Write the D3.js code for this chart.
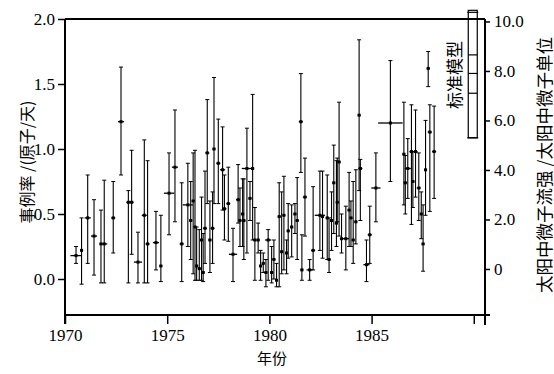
<!DOCTYPE html>
<html><head><meta charset="utf-8">
<script src="https://cdn.jsdelivr.net/npm/d3@7/dist/d3.min.js"></script>
<style>body{margin:0;background:#fff}svg{display:block}</style>
</head><body><svg id="c" width="554" height="374"></svg>
<script>
// ---- data ----
const years=[1970.54,1970.81,1971.11,1971.42,1971.76,1971.92,1972.36,1972.74,1973.10,1973.26,1973.57,1973.88,1974.04,1974.45,1974.69,1975.09,1975.38,1975.71,1976.01,1976.15,1976.27,1976.36,1976.44,1976.57,1976.68,1976.76,1976.85,1976.96,1977.09,1977.22,1977.29,1977.50,1977.71,1977.80,1977.99,1978.22,1978.47,1978.56,1978.69,1978.75,1978.90,1979.05,1979.18,1979.29,1979.45,1979.57,1979.70,1979.83,1979.94,1980.11,1980.22,1980.35,1980.48,1980.60,1980.71,1980.84,1980.92,1981.09,1981.25,1981.36,1981.54,1981.59,1981.74,1981.97,1982.14,1982.47,1982.60,1982.83,1982.92,1983.04,1983.15,1983.28,1983.32,1983.41,1983.53,1983.74,1983.90,1983.99,1984.10,1984.23,1984.39,1984.45,1984.75,1984.91,1985.21,1985.92,1986.58,1986.65,1986.77,1986.95,1987.02,1987.15,1987.31,1987.52,1987.43,1987.64,1987.77,1987.85,1988.06];
const rates=[0.18,0.22,0.47,0.33,0.27,0.27,0.47,1.21,0.59,0.59,0.13,0.49,0.27,0.28,0.10,0.66,0.86,0.27,0.57,0.45,0.60,0.40,0.10,0.08,0.30,0.05,0.39,0.97,0.30,0.39,1.00,0.89,0.84,0.54,0.58,0.19,0.61,0.45,0.50,0.45,0.85,0.62,0.85,0.30,0.30,0.10,0.12,0.05,0.30,0.05,0.15,-0.01,0.48,0.21,0.49,0.20,0.37,0.40,0.50,0.45,1.21,0.07,0.63,0.07,0.22,0.49,0.48,0.47,0.15,0.45,0.74,0.43,0.59,0.90,0.31,0.31,0.53,0.47,0.30,0.44,1.26,0.85,0.11,0.34,0.70,1.20,0.96,0.74,0.85,0.98,0.75,0.98,0.70,0.27,0.50,0.84,1.62,1.13,0.98];
const errLo=[0.12,-0.04,0.12,0.03,-0.03,-0.03,0.20,0.80,-0.03,0.19,-0.03,-0.03,-0.03,0.07,-0.02,0.34,0.44,-0.02,0.25,0.15,0.04,-0.01,-0.01,-0.01,-0.01,-0.02,0.12,0.58,0.05,0.12,0.58,0.58,0.53,0.30,0.29,-0.02,0.43,0.25,0.25,0.15,0.20,0.45,0.30,-0.01,0.20,-0.01,0.05,-0.06,-0.01,-0.03,0.00,-0.06,-0.06,0.04,0.07,0.04,0.16,0.17,0.35,0.15,0.82,-0.01,0.33,-0.01,0.07,0.22,0.16,0.15,0.05,0.22,0.35,0.25,0.44,0.33,0.20,0.07,0.25,0.25,0.12,0.27,0.68,0.45,-0.02,0.12,0.44,0.75,0.57,0.50,0.62,0.42,0.55,0.63,0.45,0.06,0.31,0.49,1.48,0.52,0.62];
const errHi=[0.25,0.47,0.80,0.61,0.53,0.76,0.75,1.63,0.68,0.99,0.36,1.07,0.91,0.52,0.49,0.97,1.30,0.74,0.89,0.75,0.97,0.99,0.40,0.38,0.63,0.35,0.83,1.38,0.60,0.67,1.55,1.23,1.17,0.80,0.86,0.39,0.88,0.70,0.77,0.77,1.16,0.75,1.42,0.55,0.43,0.22,0.20,0.15,0.38,0.25,0.30,0.12,0.74,0.67,0.79,0.30,0.58,0.57,0.58,0.78,1.58,0.34,0.93,0.15,0.71,0.83,0.83,0.80,0.47,0.67,1.03,0.91,0.93,1.36,0.50,0.56,0.82,0.60,0.75,0.84,1.84,0.92,0.30,0.56,0.97,1.68,1.36,0.95,1.08,1.34,0.98,1.30,0.97,0.57,0.67,1.22,1.75,1.34,1.33];
const runDur=[0.55,0.15,0.3,0.3,0.15,0.3,0.2,0.3,0.2,0.2,0.4,0.25,0.2,0.3,0.15,0.5,0.3,0.2,0.5,0.15,0.15,0.15,0.15,0.15,0.15,0.15,0.2,0.2,0.15,0.2,0.15,0.2,0.25,0.2,0.2,0.4,0.2,0.15,0.15,0.15,0.5,0.15,0.15,0.15,0.15,0.15,0.15,0.15,0.3,0.15,0.15,0.15,0.15,0.15,0.15,0.15,0.15,0.15,0.15,0.15,0.2,0.15,0.2,0.3,0.2,0.5,0.15,0.15,0.15,0.15,0.15,0.15,0.15,0.15,0.15,0.3,0.15,0.15,0.15,0.15,0.15,0.2,0.3,0.2,0.45,1.2,0.15,0.15,0.3,0.2,0.15,0.2,0.2,0.15,0.15,0.15,0.15,0.2,0.2];
const leftTicks=[0,0.5,1,1.5,2];
const rightTicks=[0,2,4,6,8,10];
const rightTickLabels=["0","2.0","4.0","6.0","8.0","10.0"];
const xTicks=[1970,1975,1980,1985,1990];
const xTickLabels=["1970","1975","1980","1985",""];
const smYear=[1989.95];
const smMean=[7.9];
const smSigma=[7.1,8.65];
const smRange=[5.3,10.45];
const labels={y:"事例率 /(原子/天)",x:"年份",y2:"太阳中微子流强 /太阳中微子单位",sm:"标准模型"};

// ---- drawing ----
const svg=d3.select("#c");
const L=65,R=485,T=19,B=315;
const SERIF="Liberation Serif";
const CJK="Noto Sans CJK SC";
const x=d3.scaleLinear().domain([1970,1990.5]).range([L,484]);
const y=d3.scaleLinear().domain([-0.277,2.0]).range([B,T]);
const y2=d3.scaleLinear().domain([-1.86,10.1]).range([B,T]);

// frame lines
const fr=svg.append("g").attr("stroke","#000").attr("stroke-width",2).attr("fill","none");
fr.append("line").attr("x1",L).attr("x2",R).attr("y1",T).attr("y2",T);
fr.append("line").attr("x1",L).attr("x2",L).attr("y1",T).attr("y2",B+9);
fr.append("line").attr("x1",L).attr("x2",490).attr("y1",B).attr("y2",B);
fr.append("line").attr("x1",R).attr("x2",R).attr("y1",T).attr("y2",B+10);

// axes
const gx=svg.append("g").attr("transform",`translate(0,${B})`)
 .call(d3.axisBottom(x).tickValues(xTicks).tickFormat((d,i)=>xTickLabels[i]).tickSize(9).tickSizeOuter(0));
const gy=svg.append("g").attr("transform",`translate(${L},0)`)
 .call(d3.axisLeft(y).tickValues(leftTicks).tickFormat(d3.format(".1f")).tickSize(7).tickSizeOuter(0));
const gy2=svg.append("g").attr("transform",`translate(${R},0)`)
 .call(d3.axisRight(y2).tickValues(rightTicks).tickFormat((d,i)=>rightTickLabels[i]).tickSize(5).tickSizeOuter(0));
[gx,gy,gy2].forEach(g=>{
  g.attr("font-family",SERIF).attr("font-size",17);
  g.select(".domain").remove();
  g.selectAll(".tick line").attr("stroke","#000").attr("stroke-width",1.5);
  g.selectAll(".tick text").attr("fill","#000").attr("font-family",SERIF).attr("font-size",17);
});
gx.selectAll(".tick text").attr("y",26).attr("dy",0);
gy.selectAll(".tick text").attr("x",-10);
gy2.selectAll(".tick text").attr("x",9);

// data marks
const data=years.map((t,i)=>({t,v:rates[i],lo:errLo[i],hi:errHi[i],d:runDur[i]}));
const pg=svg.append("g").attr("stroke","#000").attr("fill","none");
const pts=pg.selectAll("g.pt").data(data).join("g").attr("class","pt");
pts.append("line").attr("stroke-width",1.1)
 .attr("x1",d=>x(d.t)).attr("x2",d=>x(d.t)).attr("y1",d=>y(d.lo)).attr("y2",d=>y(d.hi));
pts.append("line").attr("stroke-width",1)
 .attr("x1",d=>x(d.t)-2).attr("x2",d=>x(d.t)+2).attr("y1",d=>y(d.lo)).attr("y2",d=>y(d.lo));
pts.append("line").attr("stroke-width",1)
 .attr("x1",d=>x(d.t)-2).attr("x2",d=>x(d.t)+2).attr("y1",d=>y(d.hi)).attr("y2",d=>y(d.hi));
pts.append("line").attr("stroke-width",1.3)
 .attr("x1",d=>x(d.t-d.d/2)).attr("x2",d=>x(d.t+d.d/2)).attr("y1",d=>y(d.v)).attr("y2",d=>y(d.v));
pts.append("rect").attr("fill","#000").attr("stroke","none")
 .attr("x",d=>x(d.t)-1.5).attr("y",d=>y(d.v)-1.5).attr("width",3).attr("height",3);

// standard model box (right axis units)
const sx=x(smYear[0]);
const sm=svg.append("g").attr("stroke","#000").attr("fill","none").attr("stroke-width",1.2);
sm.append("rect").attr("x",sx-4.5).attr("y",y2(smRange[1])).attr("width",9).attr("height",y2(smRange[0])-y2(smRange[1]));
sm.append("line").attr("x1",sx-5.5).attr("x2",sx+5.5).attr("y1",y2(smRange[1])+2).attr("y2",y2(smRange[1])+2);
sm.append("line").attr("x1",sx-5.5).attr("x2",sx+5.5).attr("y1",y2(smRange[0])).attr("y2",y2(smRange[0]));
[smSigma[1],smMean[0],smSigma[0]].forEach(v=>{
  sm.append("line").attr("x1",sx-4.5).attr("x2",sx+4.5).attr("y1",y2(v)).attr("y2",y2(v));
});

// titles
function title(txt,tx,ty,rot,size){
  svg.append("text").attr("transform",`translate(${tx},${ty})`+(rot?` rotate(${rot})`:""))
   .attr("text-anchor","middle").attr("dominant-baseline",rot?"central":"auto")
   .attr("font-family",CJK).attr("font-size",size).attr("fill","#000").text(txt);
}
title(labels.y,26,162,-90,16);
title(labels.x,272,364,0,15);
title(labels.y2,543,165,-90,17.5);
title(labels.sm,453,75,-90,17);
</script></body></html>
